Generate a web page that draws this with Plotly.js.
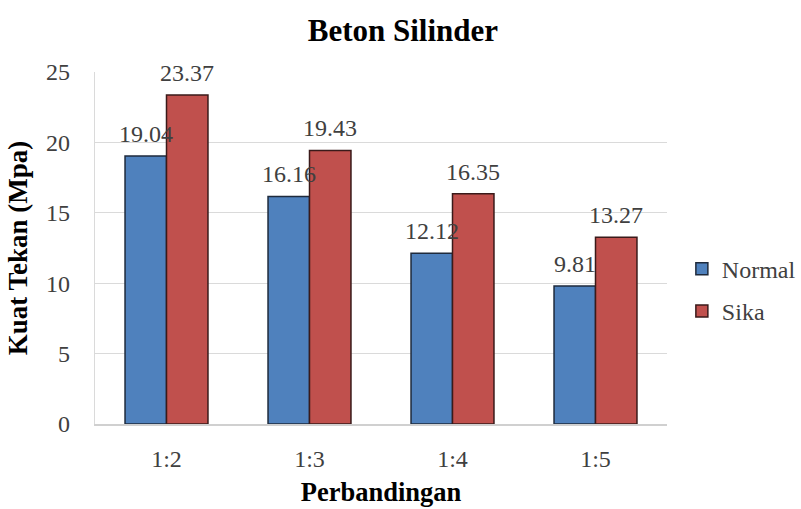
<!DOCTYPE html>
<html>
<head>
<meta charset="utf-8">
<script src="https://cdn.plot.ly/plotly-3.0.1.min.js"></script>
<style>html,body{margin:0;padding:0;background:#fff;}#chart{width:801px;height:509px;}</style>
</head>
<body>
<div id="chart"></div>
<script>
var categories = ["1:2", "1:3", "1:4", "1:5"];
var normalValues = [19.04, 16.16, 12.12, 9.81];
var sikaValues = [23.37, 19.43, 16.35, 13.27];
var seriesNames = ["Normal", "Sika"];

var serif = "Liberation Serif";

var traces = [
  {type: "bar", name: seriesNames[0], legendgroup: "a", x: categories, y: normalValues,
   marker: {color: "#4f81bd", line: {color: "#1e2a3c", width: 1.5}}, hoverinfo: "none"},
  {type: "bar", name: seriesNames[1], legendgroup: "b", x: categories, y: sikaValues,
   marker: {color: "#c0504d", line: {color: "#3a1a1a", width: 1.5}}, hoverinfo: "none"}
];

var annotations = [];
[normalValues, sikaValues].forEach(function (vals, si) {
  vals.forEach(function (v, i) {
    annotations.push({
      x: categories[i], y: v, xref: "x", yref: "y",
      text: v.toFixed(2), showarrow: false,
      xanchor: "center", yanchor: "bottom",
      xshift: si === 0 ? -20.8 : 20.8, yshift: 7,
      font: {family: serif, size: 24, color: "#404040"}
    });
  });
});

var layout = {
  width: 801, height: 509,
  paper_bgcolor: "#fff", plot_bgcolor: "#fff",
  margin: {l: 95, r: 134, t: 72, b: 85, autoexpand: false},
  barmode: "group", bargap: 0.42, bargroupgap: 0,
  title: {text: "<b>Beton Silinder</b>", font: {family: serif, size: 31, color: "#000"},
          x: 0.503, xref: "container", xanchor: "center", y: 0.94, yanchor: "middle"},
  xaxis: {
    title: {text: "<b>Perbandingan</b>", font: {family: serif, size: 26.5, color: "#000"}, standoff: 11},
    tickfont: {family: serif, size: 24, color: "#404040"},
    showline: true, linecolor: "#d0d0d0", linewidth: 1.5,
    ticks: "", ticklabelstandoff: 13, automargin: false
  },
  yaxis: {
    title: {text: "<b>Kuat Tekan (Mpa)</b>", font: {family: serif, size: 27, color: "#000"}, standoff: 10},
    range: [0, 25], dtick: 5, tick0: 0,
    tickfont: {family: serif, size: 24, color: "#404040"},
    showgrid: true, gridcolor: "#dadada", gridwidth: 1.2,
    showline: true, linecolor: "#dadada", linewidth: 1.2,
    zeroline: false, ticks: "", ticklabelstandoff: 19, automargin: false
  },
  legend: {
    x: 1.026, xanchor: "left", y: 0.38, yanchor: "middle",
    font: {family: serif, size: 24, color: "#404040"},
    bgcolor: "rgba(0,0,0,0)", traceorder: "grouped", tracegroupgap: 8
  },
  annotations: annotations,
  showlegend: true
};

Plotly.newPlot("chart", traces, layout, {staticPlot: true, displayModeBar: false});
</script>
</body>
</html>
